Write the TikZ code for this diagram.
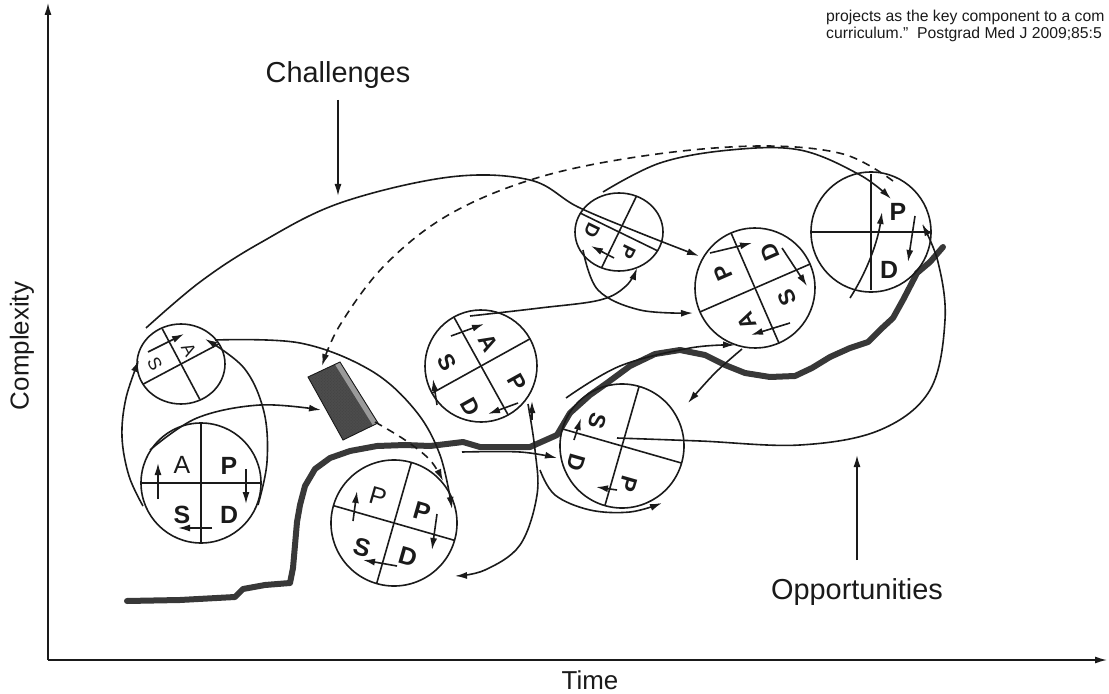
\documentclass[tikz,border=0pt]{standalone}
\usepackage{fontspec}
\setmainfont{Liberation Sans}
\usetikzlibrary{arrows.meta,patterns}

\definecolor{inkc}{HTML}{1A1A1A}
\definecolor{roadc}{HTML}{383838}
\definecolor{blockc}{HTML}{4C4C4C}
\definecolor{edgec}{HTML}{9A9A9A}

\tikzset{
  ink/.style={draw=inkc, line width=1.6bp},
  tip/.style={-{Latex[length=12bp,width=7bp]}},
  conn/.style={ink, tip},
  dconn/.style={ink, tip, dash pattern=on 8bp off 6bp},
  axisline/.style={draw=inkc, line width=1.4bp, -{Latex[length=12bp,width=7bp]}},
  road/.style={draw=roadc, line width=6bp, line join=round, line cap=round},
  ltr/.style={inner sep=0pt, text=inkc},
  biglab/.style={inner sep=0pt, font=\fontsize{29}{29}\selectfont, text=inkc},
  axlab/.style={inner sep=0pt, font=\fontsize{26}{26}\selectfont, text=inkc},
  note/.style={inner sep=0pt, anchor=west, font=\fontsize{15.8}{15.8}\selectfont, text=inkc},
}

\begin{document}
\begin{tikzpicture}[x=1bp,y=-1bp]
\useasboundingbox (0,0) rectangle (1109,694);

% ---------- axes ----------
\coordinate (orig) at (48,660);
\coordinate (ytop) at (48,3);
\coordinate (xend) at (1107,660);
\draw[axisline] (orig) -- (ytop);
\draw[axisline] (orig) -- (xend);
\node[axlab, rotate=90] (ylab) at (22,346) {Complexity};
\node[axlab] (xlab) at (590,680) {Time};

% ---------- reference note ----------
\node[note] (note1) at (826,17) {projects as the key component to a com};
\node[note] (note2) at (826,34) {curriculum."\ \ Postgrad Med J 2009;85:5};

% ---------- improvement path ----------
\draw[road] (127,601) -- (180,600) -- (235,597) -- (243,589) -- (265,585) -- (290,583)
  -- (293,568) -- (295,545) -- (297,522) -- (300,505) -- (305,486) -- (315,469)
  -- (330,458) -- (350,451) -- (377,446) -- (405,445) -- (430,446) -- (463,442)
  -- (480,447) -- (530,447) -- (557,435) -- (570,413) -- (590,395) -- (607,383)
  -- (630,366) -- (655,354) -- (680,350) -- (705,355) -- (725,365) -- (745,373)
  -- (770,377) -- (795,376) -- (812,368) -- (830,357) -- (850,348) -- (868,342)
  -- (880,330) -- (893,318) -- (903,300) -- (917,273) -- (930,262) -- (943,247);

% ---------- obstacle block ----------
\fill[blockc] (308,377) -- (340,362) -- (378,423) -- (343,440) -- cycle;
\fill[pattern=crosshatch dots, pattern color=black!75] (308,377) -- (340,362) -- (378,423) -- (343,440) -- cycle;
\fill[edgec] (335,364.5) -- (340,362) -- (378,423) -- (373,425.5) -- cycle;
\draw[inkc, line width=0.9bp] (308,377) -- (340,362) -- (378,423) -- (343,440) -- cycle;

% ---------- PDSA cycles ----------
% C1 small, upper left
\begin{scope}[shift={(181,364)}]
  \draw[ink] (0,0) ellipse[x radius=44, y radius=40];
  \begin{scope}[rotate=28]
    \draw[ink] (-43,0) -- (43,0); \draw[ink] (0,-40) -- (0,40);
  \end{scope}
\end{scope}
\node[ltr, font=\fontsize{18}{18}\selectfont, rotate=-62] (c1S) at (155,364) {S};
\node[ltr, font=\fontsize{18}{18}\selectfont, rotate=-62] (c1A) at (189,350) {A};
\draw[conn] (148,352) -- (184,334);

% C2 large, lower left
\begin{scope}[shift={(201,483)}]
  \draw[ink] (0,0) circle[radius=60];
  \draw[ink] (-60,0) -- (60,0); \draw[ink] (0,-60) -- (0,60);
\end{scope}
\node[ltr, font=\fontsize{25}{25}\selectfont] (c2A) at (182,465) {A};
\node[ltr, font=\fontsize{25}{25}\selectfont\bfseries] (c2P) at (229,466) {P};
\node[ltr, font=\fontsize{25}{25}\selectfont\bfseries] (c2S) at (182,515) {S};
\node[ltr, font=\fontsize{25}{25}\selectfont\bfseries] (c2D) at (229,515) {D};
\draw[conn] (158,499) -- (158,463);
\draw[conn] (246,469) -- (246,504);
\draw[conn] (212,528) -- (178,528);

% C3 bottom
\begin{scope}[shift={(394,523)}, rotate=-16]
  \draw[ink] (0,0) circle[radius=63];
  \draw[ink] (-63,0) -- (63,0); \draw[ink] (0,-63) -- (0,63);
\end{scope}
\node[ltr, font=\fontsize{25}{25}\selectfont, rotate=-16] (c3P) at (378,497) {P};
\node[ltr, font=\fontsize{25}{25}\selectfont\bfseries, rotate=-16] (c3Q) at (422,512) {P};
\node[ltr, font=\fontsize{25}{25}\selectfont\bfseries, rotate=-16] (c3S) at (362,548) {S};
\node[ltr, font=\fontsize{25}{25}\selectfont\bfseries, rotate=-16] (c3D) at (408,557) {D};
\draw[conn] (353,521) -- (357,491);
\draw[conn] (437,514) -- (432,550);
\draw[conn] (397,566) -- (363,560);

% C4 middle
\begin{scope}[shift={(481,366)}, rotate=29]
  \draw[ink] (0,0) circle[radius=56];
  \draw[ink] (-56,0) -- (56,0); \draw[ink] (0,-56) -- (0,56);
\end{scope}
\node[ltr, font=\fontsize{23}{23}\selectfont\bfseries, rotate=-61] (c4A) at (488,343) {A};
\node[ltr, font=\fontsize{23}{23}\selectfont\bfseries, rotate=-61] (c4S) at (447,362) {S};
\node[ltr, font=\fontsize{23}{23}\selectfont\bfseries, rotate=-61] (c4P) at (517,382) {P};
\node[ltr, font=\fontsize{23}{23}\selectfont\bfseries, rotate=-61] (c4D) at (470,407) {D};
\draw[conn] (451,336) -- (484,324);
\draw[conn] (437,405) -- (433,379);
\draw[conn] (518,403) -- (488,414);
\draw[conn] (532,420) -- (532,401);

% C5 right of middle
\begin{scope}[shift={(622,446)}, rotate=-16]
  \draw[ink] (0,0) circle[radius=62];
  \draw[ink] (-62,0) -- (62,0); \draw[ink] (0,-62) -- (0,62);
\end{scope}
\node[ltr, font=\fontsize{23}{23}\selectfont\bfseries, rotate=-106] (c5S) at (597,421) {S};
\node[ltr, font=\fontsize{23}{23}\selectfont\bfseries, rotate=-106] (c5D) at (576,463) {D};
\node[ltr, font=\fontsize{23}{23}\selectfont\bfseries, rotate=-106] (c5P) at (628,484) {P};
\draw[conn] (574,440) -- (581,418);
\draw[conn] (617,490) -- (596,487);

% C6 small, top
\begin{scope}[shift={(619,232)}]
  \draw[ink] (0,0) ellipse[x radius=44, y radius=39];
  \begin{scope}[rotate=-26]
    \draw[ink] (-43,0) -- (43,0); \draw[ink] (0,-40) -- (0,40);
  \end{scope}
\end{scope}
\node[ltr, font=\fontsize{19}{19}\selectfont\bfseries, rotate=-116] (c6D) at (592,230) {D};
\node[ltr, font=\fontsize{19}{19}\selectfont\bfseries, rotate=-116] (c6P) at (628,252) {P};
\draw[conn] (614,258) -- (591,246);

% C7 upper right
\begin{scope}[shift={(755,288)}, rotate=23.5]
  \draw[ink] (0,0) circle[radius=60];
  \draw[ink] (-60,0) -- (60,0); \draw[ink] (0,-60) -- (0,60);
\end{scope}
\node[ltr, font=\fontsize{23}{23}\selectfont\bfseries, rotate=113.5] (c7P) at (723,273) {P};
\node[ltr, font=\fontsize{23}{23}\selectfont\bfseries, rotate=113.5] (c7D) at (770,252) {D};
\node[ltr, font=\fontsize{23}{23}\selectfont\bfseries, rotate=113.5] (c7S) at (787,298) {S};
\node[ltr, font=\fontsize{23}{23}\selectfont\bfseries, rotate=113.5] (c7A) at (747,321) {A};
\draw[conn] (710,253) -- (752,243);
\draw[conn] (782,248) -- (807,286);
\draw[conn] (790,323) -- (751,335);

% C8 top right
\begin{scope}[shift={(871,232)}]
  \draw[ink] (0,0) circle[radius=60];
  \draw[ink] (-60,0) -- (60,0); \draw[ink] (0,-58) -- (0,58);
\end{scope}
\node[ltr, font=\fontsize{25}{25}\selectfont\bfseries] (c8P) at (898,212) {P};
\node[ltr, font=\fontsize{25}{25}\selectfont\bfseries] (c8D) at (889,270) {D};
\draw[conn] (915,216) -- (908,262);
\draw[conn] (850,298) .. controls (868,270) and (878,240) .. (882,212);

% ---------- connecting loops ----------
% challenges arc
\draw[conn] plot[smooth, tension=0.6] coordinates {(146,328) (200,282) (260,243) (340,203) (450,177) (530,180) (578,207) (640,233) (699,256)};
% from the top cycle to the far right cycle
\draw[conn] plot[smooth, tension=0.6] coordinates {(603,192) (660,163) (730,150) (800,150) (860,175) (891,199)};
% dashed return to the block
\draw[dconn] plot[smooth, tension=0.6] coordinates {(893,181) (843,154) (760,146) (650,155) (540,177) (450,214) (385,265) (340,325) (322,366)};
% dashed from block to bottom cycle
\draw[dconn] plot[smooth, tension=0.6] coordinates {(375,422) (405,440) (430,460) (443,481)};
% loops from the large left cycle up to the small one
\draw[conn] plot[smooth, tension=0.6] coordinates {(143,506) (129,476) (122,437) (126,398) (139,360)};
\draw[conn] plot[smooth, tension=0.6] coordinates {(258,505) (267,462) (264,412) (244,368) (205,339)};
% left cycle to block
\draw[conn] plot[smooth, tension=0.6] coordinates {(150,450) (197,418) (260,405) (321,410)};
% small cycle across to the bottom cycle
\draw[conn] plot[smooth, tension=0.6] coordinates {(215,340) (300,343) (370,370) (415,410) (440,455) (452,509)};
% middle cycle up to the small top cycle
\draw[conn] plot[smooth, tension=0.6] coordinates {(470,316) (540,308) (600,300) (626,286) (637,268)};
% loop under the small top cycle
\draw[conn] plot[smooth, tension=0.6] coordinates {(583,250) (598,290) (640,310) (693,313)};
% along the path to upper right cycle
\draw[conn] plot[smooth, tension=0.6] coordinates {(566,398) (620,366) (690,348) (735,345)};
% upper right cycle down to the right-middle cycle
\draw[conn] plot[smooth, tension=0.6] coordinates {(742,349) (715,373) (688,403)};
% bottom cycle along the path into the right-middle cycle
\draw[conn] plot[smooth, tension=0.6] coordinates {(462,452) (520,452) (557,458)};
% loop on the right of the bottom cycle
\draw[conn] plot[smooth, tension=0.6] coordinates {(528,404) (535,450) (537,495) (520,545) (485,570) (455,576)};
% loop below the right-middle cycle
\draw[conn] plot[smooth, tension=0.6] coordinates {(540,470) (555,495) (590,510) (630,512) (662,503)};
% opportunities loop
\draw[conn] plot[smooth, tension=0.6] coordinates {(617,438) (700,441) (800,445) (880,430) (930,390) (945,320) (938,262) (922,224)};

% ---------- labels with pointers ----------
\node[biglab] (chal) at (338,75) {Challenges};
\coordinate (chalTip) at (338,196);
\draw[conn] (338,100) -- (chalTip);
\node[biglab] (opp) at (857,592) {Opportunities};
\coordinate (oppTip) at (857,455);
\draw[conn] (857,560) -- (oppTip);
\end{tikzpicture}
\end{document}
